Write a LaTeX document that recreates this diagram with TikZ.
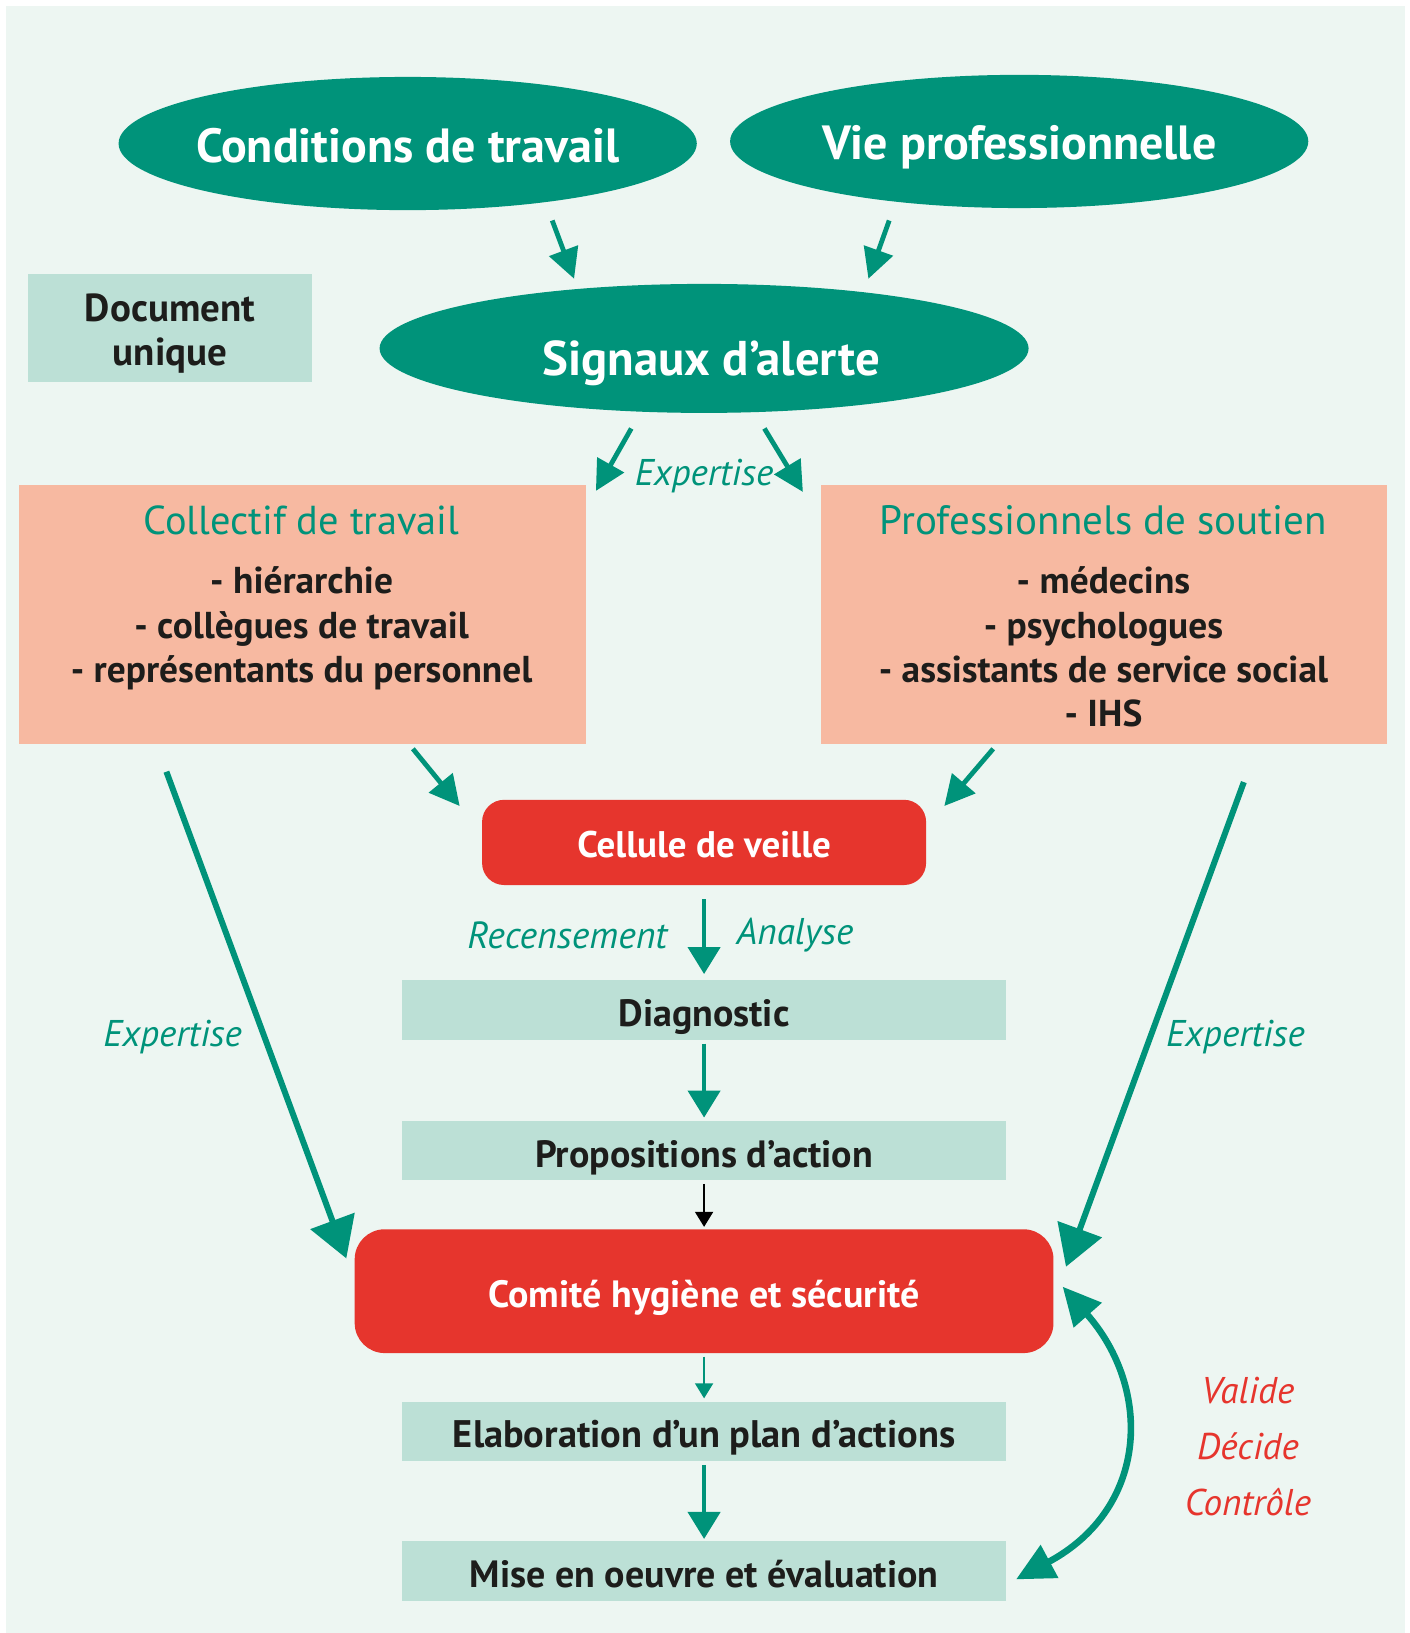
\documentclass[tikz,border=0pt]{standalone}
\usepackage{fontspec}
\setmainfont{PT Sans}
\usetikzlibrary{arrows.meta,shapes.geometric}
\definecolor{cteal}{HTML}{00937A}
\definecolor{cbg}{HTML}{EDF6F2}
\definecolor{clight}{HTML}{BCE0D6}
\definecolor{csalmon}{HTML}{F7B9A1}
\definecolor{cred}{HTML}{E6352D}
\definecolor{cdark}{HTML}{1D1D1B}
\newcommand\myfs[2]{\fontsize{#1}{#2}\selectfont}
\begin{document}
\begin{tikzpicture}[x=0.52pt,y=-0.52pt,
  oval/.style={ellipse, fill=cteal, inner sep=0pt},
  ovaltext/.style={anchor=base, text=white, font=\bfseries\myfs{24pt}{24pt}, inner sep=0pt},
  pinkbox/.style={rectangle, fill=csalmon, inner sep=0pt, minimum width=283.4pt, minimum height=129.5pt},
  lightbox/.style={rectangle, fill=clight, text=cdark, inner sep=0pt},
  stepbox/.style={lightbox, font=\bfseries\myfs{19pt}{19pt}, minimum width=302.1pt, text height=16.4pt, text depth=0pt},
  redbox/.style={rectangle, fill=cred, text=white, inner sep=0pt, text depth=0pt},
  ttl/.style={anchor=base, text=cteal, font=\myfs{20.5pt}{20.5pt}, inner sep=0pt},
  itm/.style={anchor=base, text=cdark, font=\bfseries\myfs{18.7pt}{18.7pt}, inner sep=0pt},
  lbl/.style={text=cteal, font=\itshape\myfs{18.6pt}{18.6pt}, inner sep=0pt},
  lblred/.style={text=cred, font=\itshape\myfs{18.6pt}{18.6pt}, inner sep=0pt},
  sarrow/.style={draw=cteal, line width=2.4pt, -{Triangle[length=15pt,width=15pt]}},
  varrow/.style={draw=cteal, line width=2.2pt, -{Triangle[length=13.5pt,width=16pt]}},
  larrow/.style={draw=cteal, line width=3pt, -{Triangle[length=20pt,width=23pt]}},
  tarrow/.style={line width=0.85pt, -{Triangle[length=7.5pt,width=9pt]}},
  carrow/.style={draw=cteal, line width=3.3pt, {Triangle[length=19pt,width=18pt]}-{Triangle[length=19pt,width=18pt]}}
]
\useasboundingbox (0,0) rectangle (1355.77,1570.19);
\fill[cbg] (5.8,5.8) rectangle (1351,1570.19);

% ovals
\node[oval, minimum width=289.1pt, minimum height=66.6pt] (cond) at (392,138) {};
\node[ovaltext] (condt) at (392,156.4) {Conditions de travail};
\node[oval, minimum width=289.1pt, minimum height=66.6pt] (vie) at (980,136) {};
\node[ovaltext] (viet) at (980,153.8) {Vie professionnelle};
\node[oval, minimum width=324.5pt, minimum height=64.5pt] (sig) at (677,335) {};
\node[ovaltext, font=\bfseries\myfs{24.4pt}{24.4pt}] (sigt) at (684,360.6) {Signaux d’alerte};

% document unique
\node[lightbox, minimum width=142pt, minimum height=54.1pt] (doc) at (163.5,315) {};
\node[align=center, text=cdark, inner sep=0pt, font=\bfseries\myfs{19.5pt}{22pt}] (doct) at (163.5,321) {Document\\unique};

% pink boxes
\node[pinkbox] (coll) at (290.5,590.5) {};
\node[ttl, font=\myfs{20.2pt}{20.2pt}] (collt) at (290,513.5) {Collectif de travail};
\node[itm] (colla) at (290,571) {- hiérarchie};
\node[itm] (collb) at (290,613.5) {- collègues de travail};
\node[itm] (collc) at (290,656) {- représentants du personnel};

\node[pinkbox] (prof) at (1061.5,590.5) {};
\node[ttl] (proft) at (1061,513.5) {Professionnels de soutien};
\node[itm] (profa) at (1061,571) {- médecins};
\node[itm] (profb) at (1061,613.5) {- psychologues};
\node[itm] (profc) at (1061,656) {- assistants de service social};
\node[itm] (profd) at (1061,699) {- IHS};

% red boxes
\node[redbox, minimum width=222pt, minimum height=42.6pt, rounded corners=11pt, text height=14.7pt, font=\bfseries\myfs{18.5pt}{18.5pt}] (cell) at (677,810) {Cellule de veille};
\node[redbox, minimum width=349.4pt, minimum height=61.9pt, rounded corners=15pt, text height=16.8pt, font=\bfseries\myfs{19pt}{19pt}] (com) at (677,1241.5) {Comité hygiène et sécurité};

% step boxes
\node[stepbox, minimum height=30.2pt] (diag) at (677,971) {Diagnostic};
\node[stepbox, minimum height=29.6pt] (prop) at (677,1106.5) {Propositions d’action};
\node[stepbox, minimum height=29.6pt, font=\bfseries\myfs{19.2pt}{19.2pt}] (elab) at (677,1376.5) {Elaboration d’un plan d’actions};
\node[stepbox, minimum height=29.6pt] (mise) at (677,1510.5) {Mise en oeuvre et évaluation};

% labels
\node[lbl] (exp1) at (677,458) {Expertise};
\node[lbl, anchor=east, font=\itshape\myfs{18.9pt}{18.9pt}] (rec) at (642,899) {Recensement};
\node[lbl, anchor=west] (ana) at (708,899) {Analyse};
\node[lbl] (exp2) at (166,997) {Expertise};
\node[lbl] (exp3) at (1188,997) {Expertise};
\node[lblred] (val) at (1200,1337) {Valide};
\node[lblred] (dec) at (1200,1391) {Décide};
\node[lblred] (ctr) at (1200,1444) {Contrôle};

% arrow end points
\coordinate (a1s) at (531,212); \coordinate (a1e) at (552,268);
\coordinate (a2s) at (855,212); \coordinate (a2e) at (835,268);
\coordinate (a3s) at (607,412); \coordinate (a3e) at (573,472);
\coordinate (a4s) at (735,412); \coordinate (a4e) at (772,473);
\coordinate (a5s) at (397,720); \coordinate (a5e) at (442,775);
\coordinate (a6s) at (955,720); \coordinate (a6e) at (908,775);
\coordinate (l1s) at (160,742); \coordinate (l1e) at (333,1210);
\coordinate (l2s) at (1196,752); \coordinate (l2e) at (1025,1218);
\coordinate (cb) at (977,1518.6); \coordinate (ct) at (1021.8,1237.2);

\draw[sarrow] (a1s) -- (a1e);
\draw[sarrow] (a2s) -- (a2e);
\draw[sarrow] (a3s) -- (a3e);
\draw[sarrow] (a4s) -- (a4e);
\draw[sarrow] (a5s) -- (a5e);
\draw[sarrow] (a6s) -- (a6e);
\draw[larrow] (l1s) -- (l1e);
\draw[larrow] (l2s) -- (l2e);

\draw[varrow, shorten <=6.8pt, shorten >=2.6pt] (cell) -- (diag);
\draw[varrow, shorten <=1.6pt, shorten >=1.6pt] (diag) -- (prop);
\draw[tarrow, draw=black, shorten <=1.6pt, shorten >=1pt] (prop) -- (com);
\draw[tarrow, draw=cteal, shorten <=1.6pt, shorten >=1.6pt] (com) -- (elab);
\draw[varrow, shorten <=1.6pt, shorten >=1pt] (elab) -- (mise);

\draw[carrow] (cb) .. controls (1105,1450) and (1108,1335) .. (ct);
\end{tikzpicture}
\end{document}
